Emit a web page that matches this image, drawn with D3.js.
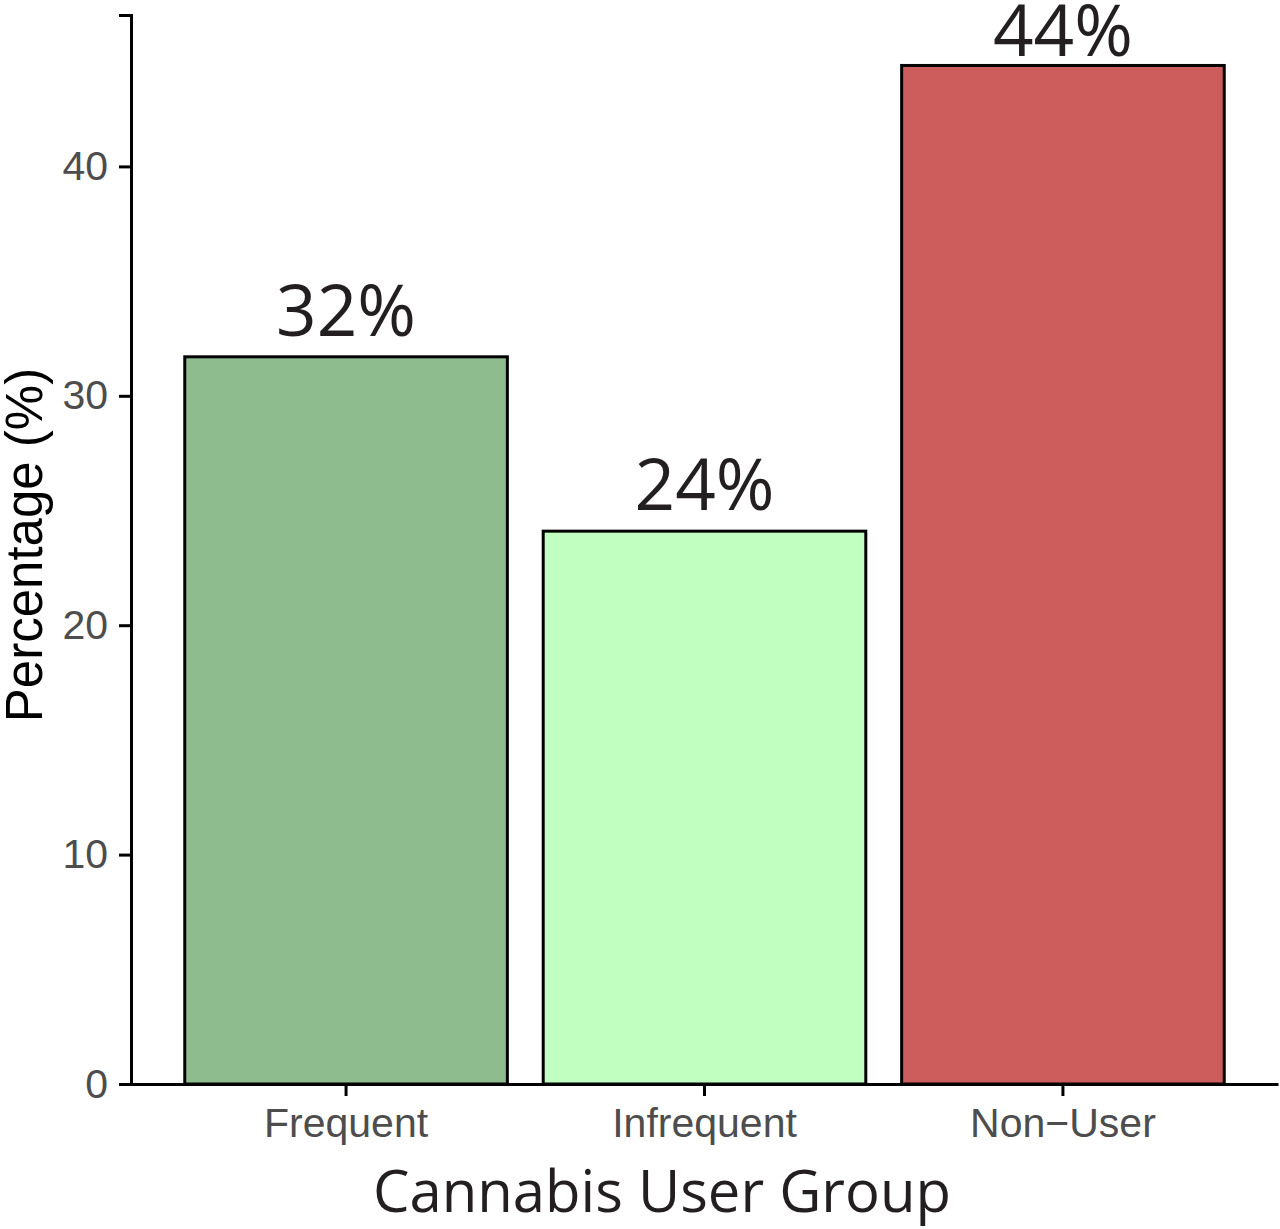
<!DOCTYPE html>
<html>
<head>
<meta charset="utf-8">
<script src="https://cdn.jsdelivr.net/npm/d3@7"></script>
<style>
  body { margin: 0; background: #fff; }
</style>
</head>
<body>
<div id="chart"></div>
<script>
const groups = ["Frequent", "Infrequent", "Non\u2212User"];
const percents = [31.7, 24.1, 44.4];
const fills = ["#8fbc8f", "#c1ffc1", "#cd5c5c"];
const yTicks = [0, 10, 20, 30, 40];

const width = 1280, height = 1229;
const margin = { top: 15, right: 2, bottom: 145, left: 131 };

const svg = d3.select("#chart").append("svg")
    .attr("width", width)
    .attr("height", height);

const x = d3.scaleBand()
    .domain(groups)
    .range([margin.left, width - margin.right])
    .paddingInner(0.1)
    .paddingOuter(0.15);

const y = d3.scaleLinear()
    .domain([0, 46.6])
    .range([height - margin.bottom, margin.top]);

const rows = groups.map((g, i) => ({ g: g, v: percents[i], c: fills[i] }));

// bars
svg.append("g")
    .selectAll("rect")
    .data(rows)
    .join("rect")
    .attr("x", d => x(d.g))
    .attr("y", d => y(d.v))
    .attr("width", x.bandwidth())
    .attr("height", d => y(0) - y(d.v))
    .attr("fill", d => d.c)
    .attr("stroke", "#000")
    .attr("stroke-width", 3);

// value labels (kept inside the top edge of the page)
svg.append("g")
    .selectAll("text")
    .data(rows)
    .join("text")
    .attr("x", d => x(d.g) + x.bandwidth() / 2)
    .attr("y", d => Math.max(y(d.v) - 21, 56))
    .attr("text-anchor", "middle")
    .style("font-family", "'Open Sans', sans-serif")
    .style("font-size", "71px")
    .attr("fill", "#231f20")
    .text(d => Math.round(d.v) + "%");

// y axis
const yAxis = svg.append("g")
    .attr("transform", `translate(${margin.left},0)`)
    .call(d3.axisLeft(y).tickValues(yTicks).tickSize(12).tickPadding(11));
yAxis.select(".domain").attr("stroke", "#000").attr("stroke-width", 3);
yAxis.selectAll(".tick line").attr("stroke", "#000").attr("stroke-width", 3);
yAxis.selectAll(".tick text")
    .style("font-family", "'Liberation Sans', Arial, sans-serif")
    .style("font-size", "41px")
    .attr("fill", "#4d4d4d");

// x axis
const xAxis = svg.append("g")
    .attr("transform", `translate(0,${y(0)})`)
    .call(d3.axisBottom(x).tickSize(12).tickPadding(12).tickSizeOuter(0));
xAxis.select(".domain").attr("stroke", "#000").attr("stroke-width", 3);
xAxis.selectAll(".tick line").attr("stroke", "#000").attr("stroke-width", 3);
xAxis.selectAll(".tick text")
    .style("font-family", "'Liberation Sans', Arial, sans-serif")
    .style("font-size", "41px")
    .attr("fill", "#4d4d4d");

// axis titles
svg.append("text")
    .attr("transform", `translate(42,545) rotate(-90)`)
    .attr("text-anchor", "middle")
    .style("font-family", "'Liberation Sans', Arial, sans-serif")
    .style("font-size", "51px")
    .attr("fill", "#000")
    .text("Percentage (%)");

svg.append("text")
    .attr("x", 662)
    .attr("y", 1212)
    .attr("text-anchor", "middle")
    .style("font-family", "'Open Sans', sans-serif")
    .style("font-size", "58px")
    .attr("fill", "#231f20")
    .text("Cannabis User Group");
</script>
</body>
</html>
